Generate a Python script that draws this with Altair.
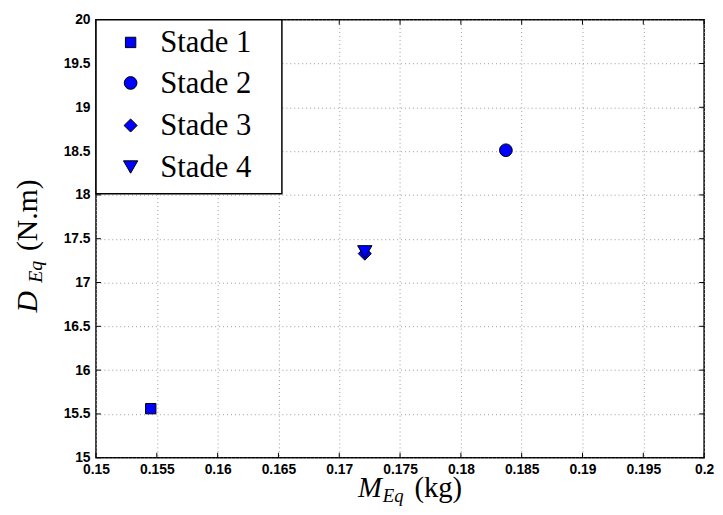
import altair as alt
import pandas as pd

# ---- data ----
stages = ["Stade 1", "Stade 2", "Stade 3", "Stade 4"]
m_eq = [0.1545, 0.1837, 0.1721, 0.1721]
d_eq = [15.56, 18.51, 17.33, 17.35]
shapes = ["square", "circle", "diamond", "triangle-down"]
sizes = [110, 165, 175, 210]
x_ticks = [0.15, 0.155, 0.16, 0.165, 0.17, 0.175, 0.18, 0.185, 0.19, 0.195, 0.2]
y_ticks = [15, 15.5, 16, 16.5, 17, 17.5, 18, 18.5, 19, 19.5, 20]
x_title = ["M", "Eq", "(kg)"]
y_title = ["D", "Eq", "(N.m)"]

W, H = 615, 443
xt = pd.DataFrame({"m": x_ticks})
yt = pd.DataFrame({"d": y_ticks})
one = pd.DataFrame({"a": [0]})

xs = alt.Scale(domain=[0.15, 0.2], nice=False, zero=False)
ys = alt.Scale(domain=[15, 20], nice=False, zero=False)

axis_common = dict(title=None, grid=True, ticks=False, tickSize=0, domain=False,
                   labelFlush=False, format="~g")
x_axis = alt.Axis(values=x_ticks, labelPadding=5, **axis_common)
y_axis = alt.Axis(values=y_ticks, labelPadding=6, **axis_common)

X = alt.X("m:Q", scale=xs, axis=x_axis)
Y = alt.Y("d:Q", scale=ys, axis=y_axis)

point_style = dict(filled=True, fill="#0000ff", stroke="black", strokeWidth=1, opacity=1)

# data points (one layer per stage, in order so Stade 4 sits on top)
point_layers = []
for s, mx, dy, sh, sz in zip(stages, m_eq, d_eq, shapes, sizes):
    d = pd.DataFrame({"stage": [s], "m": [mx], "d": [dy]})
    point_layers.append(
        alt.Chart(d).mark_point(shape=sh, size=sz, **point_style).encode(x=X, y=Y)
    )

tick_style = dict(color="black", strokeWidth=1)
bottom_ticks = alt.Chart(xt).mark_rule(**tick_style).encode(x=X, y=alt.value(H), y2=alt.value(H - 5))
top_ticks = alt.Chart(xt).mark_rule(**tick_style).encode(x=X, y=alt.value(0), y2=alt.value(5))
left_ticks = alt.Chart(yt).mark_rule(**tick_style).encode(y=Y, x=alt.value(0), x2=alt.value(5))
right_ticks = alt.Chart(yt).mark_rule(**tick_style).encode(y=Y, x=alt.value(W - 5), x2=alt.value(W))

serif = "Liberation Serif"
def txt(s, x, y, size, italic=False, angle=0):
    kw = dict(text=s, font=serif, fontSize=size, color="black", align="left", baseline="alphabetic")
    if italic:
        kw["fontStyle"] = "italic"
    if angle:
        kw["angle"] = angle
    return alt.Chart(one).mark_text(**kw).encode(x=alt.value(x), y=alt.value(y))

titles = [
    txt(x_title[0], 265, 483, 29, italic=True),
    txt(x_title[1], 290, 488, 19, italic=True),
    txt(x_title[2], 322, 483, 29),
    txt(y_title[0], -60, 296, 30, italic=True, angle=270),
    txt(y_title[1], -55, 266, 20, italic=True, angle=270),
    txt(y_title[2], -60, 234, 30, angle=270),
]

# legend (drawn inside the top-left corner of the plot)
legend_box = alt.Chart(one).mark_rect(fill="white", stroke="black", strokeWidth=1.5).encode(
    x=alt.value(0), x2=alt.value(188), y=alt.value(0), y2=alt.value(176)
)
row_y = [23, 64, 107, 149]
legend_layers = [legend_box]
for s, sh, sz, ry in zip(stages, shapes, sizes, row_y):
    legend_layers.append(
        alt.Chart(one).mark_point(shape=sh, size=sz, **point_style).encode(
            x=alt.value(35), y=alt.value(ry))
    )
    legend_layers.append(txt(s, 65, ry + 10, 31))

chart = alt.layer(
    *point_layers, bottom_ticks, top_ticks, left_ticks, right_ticks, *legend_layers, *titles
).properties(
    width=W, height=H, autosize="none",
    padding={"left": 89, "top": 9, "right": 11, "bottom": 47},
).configure_axis(
    labelFont="Liberation Sans", labelFontWeight="bold", labelFontSize=14, labelColor="black",
    gridColor="#9a9a9a", gridDash=[1, 3], gridWidth=1,
).configure_view(stroke="black", strokeWidth=1.5)

chart.save("out.html", embed_options={"renderer": "svg", "actions": False})
